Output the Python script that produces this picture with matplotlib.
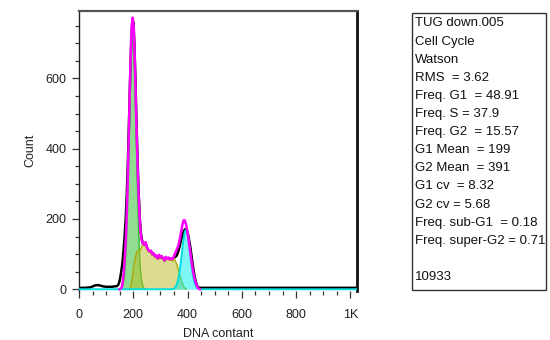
import matplotlib
matplotlib.use("Agg")
import matplotlib.pyplot as plt
from matplotlib.patches import Rectangle

plt.rcParams['font.family'] = ['Liberation Sans', 'DejaVu Sans']

# ---- raw histogram (black) ----
data_x = [0, 20, 40, 50, 60, 70, 80, 90, 100, 110, 120, 130, 140, 145, 150, 153, 156,
          160, 164, 168, 172, 176, 180, 184, 188, 192, 196, 200, 204, 208, 212, 216,
          220, 224, 228, 232,
          235, 240, 245, 250, 255, 260, 265, 270, 275, 280, 285, 290, 295, 300, 305,
          310, 315, 320, 325, 330, 335, 340, 345, 350, 355,
          360, 365, 370, 375, 380, 385, 390, 395, 400, 405, 410, 415, 420, 425, 430,
          435, 440, 445, 460, 1024]
data_y = [4, 4, 5, 8, 11, 12, 10, 8, 7, 7, 7, 8, 9, 13, 25, 38, 52,
          75, 110, 150, 200, 270, 360, 470, 590, 690, 750, 760, 700, 590, 470, 360,
          270, 200, 160, 140,
          131, 126, 133, 119, 111, 107, 109, 99, 101, 93, 95, 87, 97, 89, 93,
          87, 81, 91, 86, 89, 84, 86, 84, 90, 92,
          96, 106, 120, 137, 152, 164, 170, 172, 162, 142, 120, 92, 64, 40, 22,
          10, 5, 4, 4, 4]

# ---- model sum (magenta) ----
fit_x = [150, 154, 158, 162, 166, 170, 174, 178, 182, 186, 190, 194, 198, 202, 206,
         210, 214, 218, 222, 226, 230,
         235, 240, 245, 250, 255, 260, 265, 270, 275, 280, 285, 290, 295, 300, 305,
         310, 315, 320, 325, 330, 335, 340, 345, 350, 355,
         360, 365, 370, 375, 380, 385, 390, 395, 400, 405, 410, 415, 420, 425, 430,
         435, 440, 445]
fit_y = [0, 2, 6, 25, 60, 105, 170, 265, 390, 530, 660, 750, 773, 740, 640,
         510, 400, 300, 225, 170, 142,
         132, 127, 134, 120, 112, 108, 110, 100, 102, 94, 96, 88, 98, 90, 94,
         88, 82, 92, 87, 90, 85, 88, 86, 95, 104,
         113, 122, 138, 158, 180, 196, 196, 182, 160, 133, 105, 76, 52, 32, 18,
         8, 2, 0]

# ---- G1 component (green) ----
g1_x = [154, 158, 162, 166, 170, 174, 178, 182, 186, 190, 194, 198, 202, 206, 210,
        214, 218, 222, 226, 230, 234, 238, 242]
g1_y = [2, 4, 12, 28, 59, 116, 203, 322, 460, 595, 694, 730, 694, 595, 460,
        322, 203, 116, 59, 28, 12, 4, 2]

# ---- S component (yellow) ----
s_x = [185, 190, 195, 200, 205, 210, 215, 220, 225, 230, 235, 240, 245, 250, 255,
       260, 265, 270, 275, 280, 285, 290, 295, 300, 305, 310, 315, 320, 325, 330,
       335, 340, 345, 350, 355, 360, 365, 370, 375, 380, 385, 390, 395]
s_y = [0, 5, 25, 55, 80, 98, 108, 112, 110, 118, 130, 125, 132, 118, 110,
       106, 108, 98, 100, 92, 94, 86, 96, 88, 92, 86, 80, 90, 85, 88,
       82, 84, 80, 88, 80, 72, 58, 44, 30, 18, 9, 3, 0]

# ---- G2 component (cyan) ----
g2_x = [0, 345, 350, 355, 360, 365, 370, 375, 380, 385, 390, 395, 400, 405, 410,
        415, 420, 425, 430, 435, 440, 445, 1024]
g2_y = [0, 0, 2, 6, 13, 26, 47, 76, 110, 142, 164, 170, 157, 130, 96,
        64, 38, 20, 10, 4, 2, 0, 0]

x_ticks = [0, 200, 400, 600, 800, 1000]
x_tick_labels = ['0', '200', '400', '600', '800', '1K']
y_ticks = [0, 200, 400, 600]
y_tick_labels = ['0', '200', '400', '600']

stats_lines = ['TUG down.005', 'Cell Cycle', 'Watson', 'RMS  = 3.62',
               'Freq. G1  = 48.91', 'Freq. S = 37.9', 'Freq. G2  = 15.57',
               'G1 Mean  = 199', 'G2 Mean  = 391', 'G1 cv  = 8.32', 'G2 cv = 5.68',
               'Freq. sub-G1  = 0.18', 'Freq. super-G2 = 0.71', '', '10933']

W, H = 550, 340
fig = plt.figure(figsize=(W / 100, H / 100), dpi=100)
ax = fig.add_axes([79 / W, 1 - 291 / H, (357 - 79) / W, (291 - 11) / H])

ax.plot(data_x, data_y, color='black', lw=1.8, zorder=2)
ax.fill_between(g1_x, g1_y, color='#22bb22', alpha=0.5, lw=0, zorder=3)
ax.plot(g1_x, g1_y, color='#33bb33', lw=1.0, zorder=3)
ax.fill_between(s_x, s_y, color='#bbbb22', alpha=0.5, lw=0, zorder=3)
ax.plot(s_x, s_y, color='#aaaa00', lw=1.0, zorder=3)
ax.fill_between(g2_x, g2_y, color='#00eeee', alpha=0.5, lw=0, zorder=3)
ax.plot(g2_x, g2_y, color='#00dddd', lw=1.4, zorder=3)
ax.plot(fit_x, fit_y, color='#ff00ff', lw=1.8, zorder=4)

ax.set_xlim(0, 1024)
ax.set_ylim(-5, 792)
ax.set_xticks(x_ticks)
ax.set_xticklabels(x_tick_labels)
ax.set_yticks(y_ticks)
ax.set_yticklabels(y_tick_labels)
ax.set_xticks(list(range(50, 1024, 50)), minor=True)
ax.set_yticks(list(range(50, 792, 50)), minor=True)
ax.tick_params(which='major', length=5, width=0.9, color='#333333', labelsize=9,
               labelcolor='#222222')
ax.tick_params(which='minor', length=3, width=0.9, color='#333333')
ax.tick_params(axis='x', which='major', pad=8)
ax.tick_params(axis='y', which='major', pad=4)

ax.spines['bottom'].set_visible(False)
ax.spines['left'].set_color('#222222')
ax.spines['left'].set_linewidth(1.0)
ax.spines['top'].set_color('#555555')
ax.spines['top'].set_linewidth(1.6)
ax.spines['right'].set_color('#111111')
ax.spines['right'].set_linewidth(2.0)

fig.text(30 / W, 1 - 150 / H, 'Count', rotation=90, ha='center', va='center',
         fontsize=9, color='#222222')
fig.text(218 / W, 1 - 334 / H, 'DNA contant', ha='center', va='center',
         fontsize=9, color='#222222')

fig.add_artist(Rectangle((412 / W, 1 - 290 / H), (546 - 412) / W, (290 - 13) / H,
                         transform=fig.transFigure, fill=False,
                         edgecolor='#333333', lw=1.0))
for i, line in enumerate(stats_lines):
    fig.text(415 / W, 1 - (23.5 + 18.1 * i) / H, line, ha='left', va='center',
             fontsize=9.5, color='#111111')

fig.savefig('out.png', dpi=100)
